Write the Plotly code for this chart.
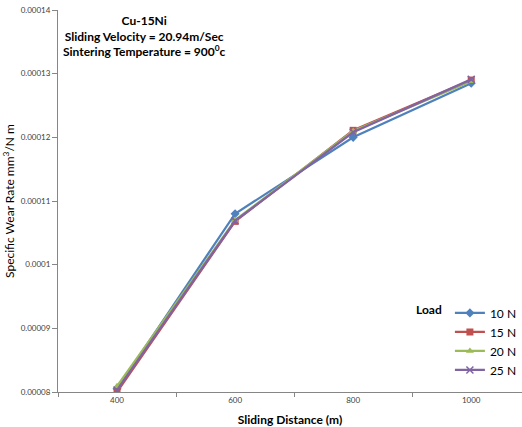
import plotly.graph_objects as go

# Sliding distance categories (m)
distances = ["400", "600", "800", "1000"]

# Specific wear rate (mm^3/N m) for each load
wear_10n = [0.0000805, 0.000108, 0.000120, 0.0001285]
wear_15n = [0.0000800, 0.0001068, 0.0001211, 0.0001290]
wear_20n = [0.0000809, 0.0001070, 0.0001210, 0.0001288]
wear_25n = [0.0000803, 0.0001069, 0.0001208, 0.0001291]

series_names = ["10 N", "15 N", "20 N", "25 N"]
series_values = [wear_10n, wear_15n, wear_20n, wear_25n]
series_colors = ["#4F81BD", "#C0504D", "#9BBB59", "#8064A2"]
series_symbols = ["diamond", "square", "triangle-up", "x-thin"]

y_ticks = [0.00008, 0.00009, 0.0001, 0.00011, 0.00012, 0.00013, 0.00014]
y_tick_text = ["0.00008", "0.00009", "0.0001", "0.00011", "0.00012", "0.00013", "0.00014"]

fig = go.Figure()
for name, vals, color, sym in zip(series_names, series_values, series_colors, series_symbols):
    fig.add_trace(go.Scatter(
        x=distances, y=vals, name=name, mode="lines+markers",
        line=dict(color=color, width=2.25),
        marker=dict(symbol=sym, size=7, color=color,
                    line=dict(color=color, width=1.5 if sym == "x-thin" else 0)),
    ))

label_font = dict(family="Lato, Arial, sans-serif", size=8, color="#404040")

fig.update_layout(
    width=522, height=427,
    margin=dict(l=58, r=0, t=10, b=35),
    paper_bgcolor="white", plot_bgcolor="white",
    font=dict(family="Lato, Arial, sans-serif", color="#000000"),
    showlegend=True,
    legend=dict(
        title=dict(text="<b>Load</b>", side="left", font=dict(size=12)),
        x=1.0, xanchor="right", y=0.245, yanchor="top",
        font=dict(size=12), bgcolor="rgba(0,0,0,0)",
        tracegroupgap=0, itemwidth=30,
    ),
    xaxis=dict(
        type="category", range=[-0.5, 3.43],
        tickson="boundaries", ticks="outside", ticklen=4, tickcolor="#868686",
        showline=True, linecolor="#868686", linewidth=1,
        showgrid=False, zeroline=False, tickfont=label_font,
        title=dict(text="<b>Sliding Distance (m)</b>", font=dict(size=12), standoff=12),
    ),
    yaxis=dict(
        range=[0.00008, 0.00014], tickvals=y_ticks, ticktext=y_tick_text,
        ticks="outside", ticklen=5, tickcolor="#868686",
        showline=True, linecolor="#868686", linewidth=1,
        showgrid=False, zeroline=False, tickfont=label_font,
        title=dict(text="Specific Wear Rate mm<sup>3</sup>/N m", font=dict(size=12), standoff=3),
    ),
    annotations=[dict(
        text="<b>Cu-15Ni<br>Sliding Velocity = 20.94m/Sec<br>Sintering Temperature = 900<sup>0</sup>c</b>",
        xref="paper", yref="paper", x=0.186, y=0.997, xanchor="center", yanchor="top",
        showarrow=False, font=dict(size=12), align="center",
    )],
)

fig.write_html("out.html")
